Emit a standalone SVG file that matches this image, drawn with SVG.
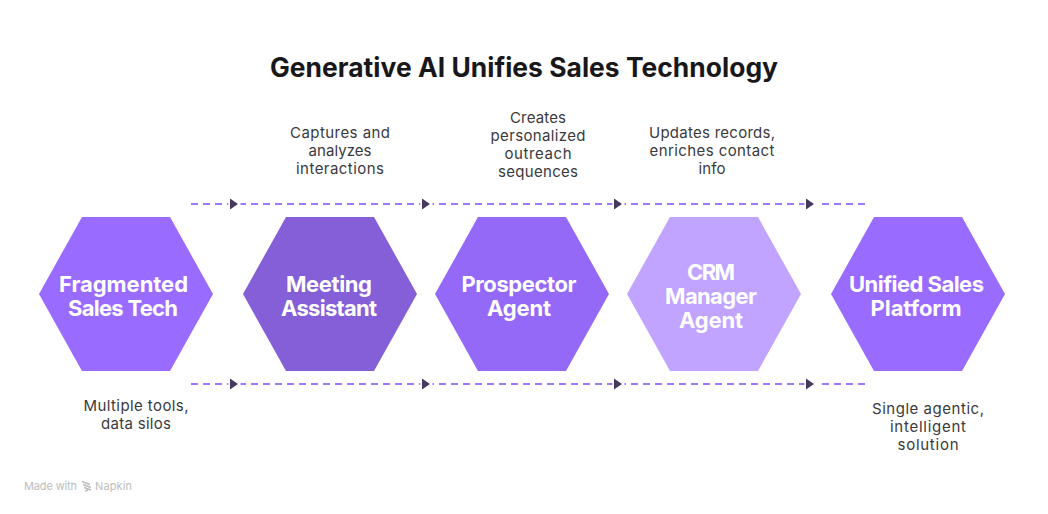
<svg xmlns="http://www.w3.org/2000/svg" width="1048" height="514" viewBox="0 0 1048 514">
<style>
.t{font-family:"Inter","Liberation Sans",sans-serif;font-size:22px;font-weight:700;fill:#fff;text-anchor:middle}
.l{font-family:"Inter","Liberation Sans",sans-serif;font-size:15px;fill:#3a3a3e;text-anchor:middle}
.d{fill:none;stroke:#a078ff;stroke-width:2;stroke-dasharray:7 5}
.a{fill:#463a5e}
</style>
<defs><polygon id="hex" points="-87,0 -44,-77 44,-77 87,0 44,77 -44,77"/><g id="arr"><rect x="-5.700" y="-2" width="12.200" height="4" fill="#fff"/><polygon class="a" points="-4,-5.500 4,0 -4,5.500"/></g></defs>
<rect width="1048" height="514" fill="#fff"/>
<text x="524" y="76.500" text-anchor="middle" textLength="508" style="font-family:Inter,'Liberation Sans',sans-serif;font-size:26.4px;font-weight:700;fill:#18181b">Generative AI Unifies Sales Technology</text>
<g id="connectors">
<path class="d" d="M191 204H426M427 204H618M619 204H810M822 204H865"/><path class="d" d="M191 384H426M427 384H618M619 384H810M822 384H865"/>
<use href="#arr" x="234" y="204"/><use href="#arr" x="426" y="204"/><use href="#arr" x="618" y="204"/><use href="#arr" x="810" y="204"/>
<use href="#arr" x="234" y="384"/><use href="#arr" x="426" y="384"/><use href="#arr" x="618" y="384"/><use href="#arr" x="810" y="384"/>
</g>
<g id="node-fragmented"><use href="#hex" x="126" y="294" fill="#9a6bff"/><text class="t" x="123.500" y="292" textLength="129">Fragmented</text><text class="t" x="123" y="316" textLength="110">Sales Tech</text></g>
<g id="node-meeting"><use href="#hex" x="330" y="294" fill="#845fd7"/><text class="t" x="329" y="292" textLength="86">Meeting</text><text class="t" x="329" y="316" textLength="96">Assistant</text></g>
<g id="node-prospector"><use href="#hex" x="522" y="294" fill="#9469f8"/><text class="t" x="519" y="292" textLength="115">Prospector</text><text class="t" x="519" y="316" textLength="64">Agent</text></g>
<g id="node-crm"><use href="#hex" x="714" y="294" fill="#c0a4ff"/><text class="t" x="711" y="280" textLength="48">CRM</text><text class="t" x="711" y="304" textLength="92">Manager</text><text class="t" x="711" y="328" textLength="64">Agent</text></g>
<g id="node-unified"><use href="#hex" x="918" y="294" fill="#9a6bff"/><text class="t" x="916.500" y="292" textLength="135">Unified Sales</text><text class="t" x="916" y="316" textLength="91">Platform</text></g>
<g id="labels">
<text class="l" x="340" y="138" textLength="100">Captures and</text><text class="l" x="340" y="156" textLength="63">analyzes</text><text class="l" x="340" y="174" textLength="88">interactions</text>
<text class="l" x="538" y="123" textLength="56">Creates</text><text class="l" x="538" y="141" textLength="95">personalized</text><text class="l" x="538" y="159" textLength="67">outreach</text><text class="l" x="538" y="177" textLength="80">sequences</text>
<text class="l" x="712" y="138" textLength="126">Updates records,</text><text class="l" x="712" y="156" textLength="125">enriches contact</text><text class="l" x="712" y="174" textLength="27">info</text>
<text class="l" x="136" y="411" textLength="105">Multiple tools,</text><text class="l" x="136" y="429" textLength="70">data silos</text>
<text class="l" x="928" y="414" textLength="112">Single agentic,</text><text class="l" x="928" y="432" textLength="76">intelligent</text><text class="l" x="928" y="450" textLength="61">solution</text>
</g>
<text x="24" y="490" textLength="53" style="font-family:Inter,'Liberation Sans',sans-serif;font-size:11px;fill:#bdbdbd">Made with</text>
<text x="95" y="490" textLength="37" style="font-family:Inter,'Liberation Sans',sans-serif;font-size:11px;fill:#bdbdbd">Napkin</text>
<g id="logo" stroke="#bdbdbd" stroke-width="1.500" fill="none"><path d="M82 481.500l8 3M83 484.500l8 3M84 487.500l7 2.500M85 491l3-1"/></g>
</svg>
